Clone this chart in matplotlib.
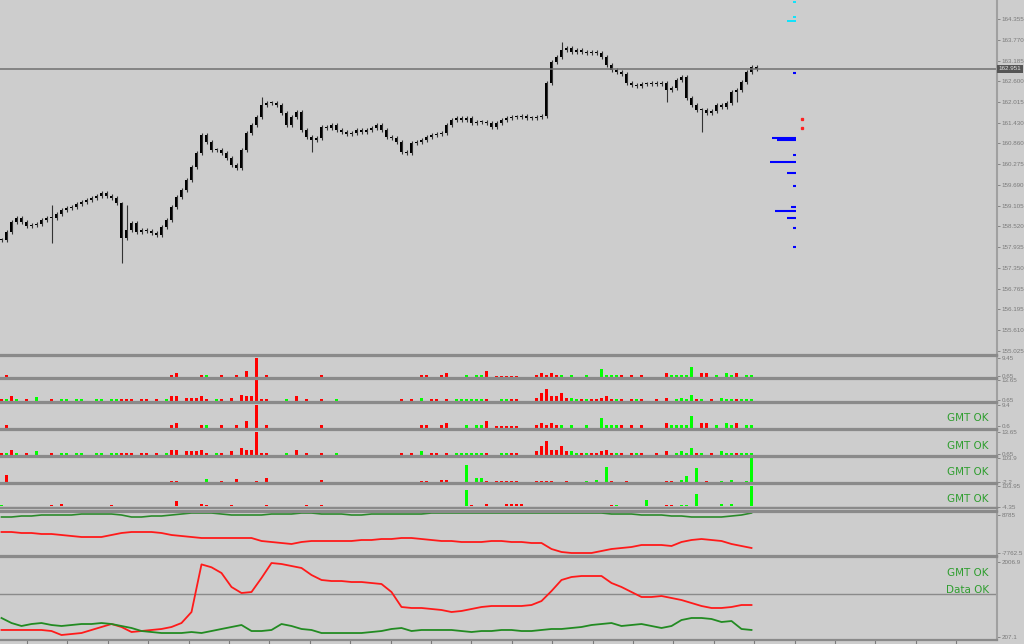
import numpy as np
import matplotlib.pyplot as plt
from matplotlib.transforms import blended_transform_factory

W, H = 1024, 644
RIGHT_PX = 997
BG = "#cdcdcd"
SEP = "#8a8a8a"
TXT = "#7a7a7a"
OK_GREEN = "#2f9e2f"
plt.rcParams["font.family"] = ["Liberation Sans", "DejaVu Sans"]

# main price panel: one close per bar (bar spacing ~5 px)
closes = [
    158.14, 158.36, 158.65, 158.76, 158.65, 158.53, 158.56, 158.59, 158.70, 158.76,
    158.76, 158.87, 158.98, 159.04, 159.07, 159.15, 159.21, 159.26, 159.32, 159.38,
    159.46, 159.38, 159.32, 159.18, 158.20, 158.42, 158.62, 158.36, 158.42, 158.39,
    158.34, 158.28, 158.51, 158.70, 159.07, 159.35, 159.55, 159.83, 160.19, 160.59,
    161.09, 160.90, 160.67, 160.67, 160.59, 160.45, 160.25, 160.16, 160.67, 161.15,
    161.37, 161.60, 161.94, 161.99, 161.99, 161.94, 161.71, 161.37, 161.60, 161.74,
    161.23, 161.04, 160.95, 161.01, 161.32, 161.29, 161.37, 161.23, 161.18, 161.12,
    161.15, 161.23, 161.18, 161.23, 161.29, 161.37, 161.23, 161.04, 161.01, 160.90,
    160.61, 160.59, 160.87, 160.90, 160.95, 161.04, 161.09, 161.12, 161.15, 161.37,
    161.51, 161.57, 161.51, 161.57, 161.43, 161.46, 161.46, 161.43, 161.32, 161.43,
    161.51, 161.57, 161.60, 161.60, 161.63, 161.57, 161.57, 161.60, 161.63, 162.56,
    163.15, 163.29, 163.48, 163.54, 163.43, 163.48, 163.43, 163.40, 163.43, 163.40,
    163.29, 163.06, 162.92, 162.86, 162.81, 162.56, 162.50, 162.47, 162.53, 162.53,
    162.56, 162.53, 162.56, 162.36, 162.41, 162.64, 162.72, 162.13, 161.94, 161.80,
    161.80, 161.71, 161.77, 161.94, 161.88, 161.99, 162.30, 162.36, 162.58, 162.86,
    163.01, 162.95,
]
# bars with long wicks: {bar: (high, low)}
long_wicks = {10: (159.12, 158.06), 24: (159.20, 157.49), 25: (159.12, None),
              52: (162.16, None), 62: (None, 160.61), 112: (163.71, None),
              133: (None, 162.02), 140: (None, 161.18), 147: (None, 162.02)}
current_price = 162.951
price_ticks = [164.355, 163.770, 163.185, 162.600, 162.015, 161.430, 160.860, 160.275,
               159.690, 159.105, 158.520, 157.935, 157.350, 156.765, 156.195, 155.610, 155.025]

# level markers right of the last bar: (price, length in bars)
blue_levels = [(162.84, 0.6), (161.01, 4.8), (160.95, 3.8), (160.53, 0.6), (160.33, 5.2),
               (160.02, 1.8), (159.66, 0.6), (159.07, 1.0), (158.96, 4.2), (158.76, 1.8),
               (158.48, 0.6), (157.94, 0.6)]
cyan_levels = [(164.83, 0.6), (164.41, 0.6), (164.30, 1.8)]
red_dots = [161.54, 161.29]

# histogram sub-panels {bar: value}
p1_red = {1: 1, 34: 1, 35: 2, 40: 1, 44: 1, 47: 1, 49: 3, 51: 9.45, 53: 1, 64: 1, 84: 1, 85: 1,
          88: 1, 89: 2, 97: 3, 99: 0.7, 100: 0.7, 101: 0.7, 102: 0.7, 103: 0.7, 107: 1, 108: 2,
          109: 1, 110: 2, 111: 1, 124: 1, 126: 1, 128: 1, 133: 2, 140: 2, 141: 2, 147: 2}
p1_green = {41: 1, 93: 1, 95: 1, 96: 1, 112: 1, 114: 1, 117: 1, 120: 4, 121: 1, 122: 1, 123: 1,
            134: 1, 135: 1, 136: 1, 137: 1, 138: 5, 143: 1, 145: 2, 146: 1, 149: 1, 150: 1}
p2_red = {0: 1, 2: 3, 5: 1, 10: 1, 24: 1, 25: 1, 26: 1, 28: 1, 29: 1, 31: 1, 34: 3, 35: 3,
          37: 2, 38: 2, 39: 2, 40: 3, 41: 1, 44: 1, 46: 2, 48: 4, 49: 3, 50: 3, 51: 13.65,
          52: 1, 53: 1, 59: 3, 61: 1, 64: 1, 80: 1, 82: 1, 86: 1, 87: 1, 89: 1, 97: 1, 102: 1,
          103: 1, 107: 2, 108: 5, 109: 8, 110: 3, 111: 3, 112: 5, 113: 2, 116: 1, 118: 1,
          119: 1, 120: 2, 121: 3, 122: 1, 124: 1, 126: 1, 128: 1, 131: 1, 133: 2, 139: 1,
          142: 1, 147: 1}
p2_green = {1: 1, 3: 1, 7: 2.5, 12: 1, 13: 1, 15: 1, 16: 1, 19: 1, 20: 1, 22: 1, 23: 1, 33: 1,
            43: 1, 57: 1, 67: 1, 84: 2, 91: 1, 92: 1, 93: 1, 94: 1, 95: 1, 96: 1, 100: 1,
            101: 1, 114: 2, 115: 1, 117: 1, 123: 1, 127: 1, 135: 1, 136: 2, 137: 1, 138: 4,
            140: 1, 144: 2, 145: 1, 146: 1, 148: 1, 149: 1, 150: 1}
p5_red = {1: 30, 34: 4, 35: 4, 44: 4, 47: 10, 51: 4, 53: 15, 64: 6, 84: 4, 85: 4, 88: 8, 89: 8,
          97: 4, 99: 3, 100: 3, 101: 3, 102: 3, 103: 3, 107: 3, 108: 3, 109: 3, 110: 5,
          113: 2, 122: 2, 125: 2, 133: 4, 134: 4, 141: 3}
p5_green = {41: 10, 93: 75, 95: 15, 96: 15, 117: 4, 119: 6, 121: 66, 136: 8, 137: 25,
            139: 62, 144: 5, 146: 6, 149: 4, 150: 103.9}
p6_red = {1: 4, 10: 8, 12: 10, 18: 4, 22: 6, 29: 4, 35: 27, 40: 12, 41: 8, 46: 6, 53: 6,
          59: 4, 61: 6, 64: 6, 66: 4, 80: 4, 82: 4, 86: 4, 88: 4, 94: 6, 97: 12, 101: 10,
          102: 10, 103: 12, 104: 10, 110: 4, 113: 4, 122: 6, 124: 4, 128: 4, 133: 6, 134: 6,
          141: 4, 142: 4, 147: 4}
p6_green = {0: 8, 7: 4, 14: 3, 16: 3, 23: 3, 30: 3, 41: 4, 93: 80, 95: 4, 98: 4, 123: 6,
            129: 30, 136: 6, 137: 8, 139: 60, 144: 12, 146: 10, 150: 103.95}

# line oscillators, one value every 2 bars
p8_red = [1372, 1372, 937, 937, 503, 503, 68, -367, -802, -802, -802, 68, 937, 1372, 1372,
          1372, 937, 68, -367, -802, -1237, -1237, -1237, -1237, -1237, -1237, -2542, -2977,
          -3412, -3847, -2977, -2542, -2542, -2542, -2542, -2542, -2107, -2107, -1672, -1672,
          -1237, -1237, -1672, -2107, -2542, -2542, -2977, -2977, -2977, -2542, -2542, -2977,
          -2977, -3412, -3412, -6022, -7327, -7762, -7762, -7762, -6892, -6022, -5587, -5152,
          -4282, -4282, -4282, -4717, -2977, -2107, -1672, -2107, -2542, -3847, -4717, -5587]
p8_green = [7897, 7897, 8332, 8332, 8767, 8767, 8767, 8767, 9202, 9202, 9202, 9202, 8767,
            7897, 7897, 8332, 8332, 8767, 9202, 9637, 9637, 9637, 9202, 8767, 8767, 8767,
            8767, 9202, 9202, 9202, 9637, 9637, 9202, 9202, 9202, 8767, 8767, 9202, 9202,
            9202, 9202, 9202, 9202, 9637, 9637, 9637, 9637, 9637, 9637, 9637, 9637, 9637,
            9637, 9637, 9637, 9637, 9637, 9637, 9637, 9637, 9637, 9202, 9202, 9202, 8767,
            8767, 8767, 8332, 8332, 7897, 7897, 7897, 7897, 8332, 8767, 9637]
p9_red = [369, 369, 369, 369, 369, 344, 248, 272, 296, 369, 441, 513, 441, 320, 344, 369,
          393, 441, 537, 802, 1950, 1880, 1742, 1405, 1260, 1284, 1622, 1983, 1959, 1911,
          1863, 1694, 1574, 1549, 1549, 1525, 1525, 1501, 1477, 1284, 923, 899, 899, 875,
          851, 802, 827, 875, 923, 947, 947, 947, 947, 971, 1067, 1308, 1574, 1646, 1670,
          1670, 1670, 1501, 1405, 1284, 1164, 1164, 1188, 1140, 1091, 1019, 947, 899, 899,
          923, 971, 971]
p9_green = [658, 537, 465, 513, 537, 489, 465, 489, 513, 513, 537, 513, 465, 417, 344, 320,
            296, 296, 296, 320, 296, 344, 393, 441, 489, 344, 344, 369, 513, 465, 393, 369,
            296, 296, 296, 296, 296, 320, 344, 393, 417, 344, 369, 369, 369, 369, 344, 320,
            344, 344, 369, 369, 344, 344, 369, 393, 393, 417, 441, 489, 513, 537, 465, 489,
            513, 465, 417, 465, 609, 658, 658, 634, 561, 585, 393, 369]
p9_level = 1230


def add_panel(top, bottom):
    ax = fig.add_axes([0, 1 - bottom / H, RIGHT_PX / W, (bottom - top) / H])
    ax.set_facecolor(BG)
    ax.set_xlim(-0.3, RIGHT_PX / 5 - 0.3)
    ax.spines["left"].set_visible(False)
    ax.spines["right"].set_color("#a0a0a0")
    ax.spines["right"].set_linewidth(1.5)
    for s in ("top", "bottom"):
        ax.spines[s].set_color(SEP)
        ax.spines[s].set_linewidth(1.6)
    ax.yaxis.tick_right()
    ax.tick_params(axis="y", colors=TXT, labelsize=4.5, length=2, width=0.6, pad=1.5)
    ax.tick_params(axis="x", bottom=False, labelbottom=False)
    return ax


def hist_panel(top, bottom, red, green, ylim, ticks, labels):
    ax = add_panel(top, bottom)
    ax.bar(list(red.keys()), list(red.values()), width=0.65, color="#ff0000")
    ax.bar(list(green.keys()), list(green.values()), width=0.65, color="#00ff00")
    ax.set_ylim(*ylim)
    ax.set_yticks(ticks)
    ax.set_yticklabels(labels)
    return ax


fig = plt.figure(figsize=(W / 100, H / 100), dpi=100, facecolor=BG)

# main candles
ax = add_panel(0, 355)
ax.spines["top"].set_visible(False)
n = len(closes)
x = np.arange(n)
opens = [closes[0]] + closes[:-1]
highs = [max(o, c) + 0.06 for o, c in zip(opens, closes)]
lows = [min(o, c) - 0.06 for o, c in zip(opens, closes)]
for i, (hi, lo) in long_wicks.items():
    if hi is not None:
        highs[i] = hi
    if lo is not None:
        lows[i] = lo
ax.vlines(x, lows, highs, color="#333333", lw=0.8)
bottoms = [min(o, c) for o, c in zip(opens, closes)]
heights = [max(abs(c - o), 0.03) for o, c in zip(opens, closes)]
ax.bar(x, heights, bottom=bottoms, width=0.55, color="#000000", linewidth=0)
ax.axhline(current_price, color="#707070", lw=1.1)
right = n + 6.9
for p, ln in blue_levels:
    ax.hlines(p, right - ln, right, color="#0000ff", lw=1.5)
for p, ln in cyan_levels:
    ax.hlines(p, right - ln, right, color="#00e5ff", lw=1.3)
ax.plot([right + 1.1] * len(red_dots), red_dots, "s", color="#ff2020", ms=1.4)
ax.set_ylim(154.905, 164.889)
ax.set_yticks(price_ticks)
ax.set_yticklabels([f"{t:.3f}" for t in price_ticks])
tr = blended_transform_factory(ax.transAxes, ax.transData)
ax.text(1.0015, current_price, f"{current_price:.3f}", transform=tr, fontsize=4.5,
        color="#e8e8e8", va="center", ha="left",
        bbox=dict(boxstyle="square,pad=0.25", fc="#555555", ec="none"))

hist_panel(356, 378, p1_red, p1_green, (-0.5, 10.2), [9.45, 0.65], ["9.45", "0.65"])
hist_panel(379, 402, p2_red, p2_green, (-0.7, 14.6), [13.65, 0.65], ["13.65", "0.65"])
hist_panel(403, 429, p1_red, p1_green, (-0.5, 10.4), [9.4, 0.6], ["9.4", "0.6"])
hist_panel(430, 456, p2_red, p2_green, (-0.7, 14.8), [13.65, 0.65], ["13.65", "0.65"])
hist_panel(457, 483, p5_red, p5_green, (-6, 110), [103.9, -2.2], ["103.9", "-2.2"])
hist_panel(484, 508, p6_red, p6_green, (-8, 112), [103.95, -4.35], ["103.95", "-4.35"])

ax7 = add_panel(508, 511)
ax7.set_yticks([])

xl = np.arange(len(p9_red)) * 2
ax8 = add_panel(512, 556)
ax8.plot(xl, p8_green, color="#2a8a2a", lw=1.2)
ax8.plot(xl, p8_red, color="#ff1a1a", lw=1.3)
ax8.set_ylim(-9067, 10072)
ax8.set_yticks([8785, -7762.5])
ax8.set_yticklabels(["8785", "-7762.5"])

ax9 = add_panel(557, 640)
ax9.axhline(p9_level, color="#8a8a8a", lw=1)
ax9.plot(xl, p9_red, color="#ff1a1a", lw=1.3)
ax9.plot(xl, p9_green, color="#228b22", lw=1.3)
ax9.set_ylim(127.6, 2128)
ax9.set_yticks([2006.9, 207.1])
ax9.set_yticklabels(["2006.9", "207.1"])
ax9.set_xticks(np.arange(5.1, 199, 8.08))
ax9.tick_params(axis="x", bottom=True, labelbottom=False, direction="out", length=3,
                color="#7a7a7a", width=0.8)

for ypx in (418, 446, 472, 499, 573):
    fig.text(968 / W, 1 - ypx / H, "GMT OK", ha="center", va="center", color=OK_GREEN,
             fontsize=7.5, family="DejaVu Sans")
fig.text(968 / W, 1 - 590 / H, "Data OK", ha="center", va="center", color=OK_GREEN,
         fontsize=7.5, family="DejaVu Sans")

fig.savefig("out.png", dpi=100, facecolor=BG)
